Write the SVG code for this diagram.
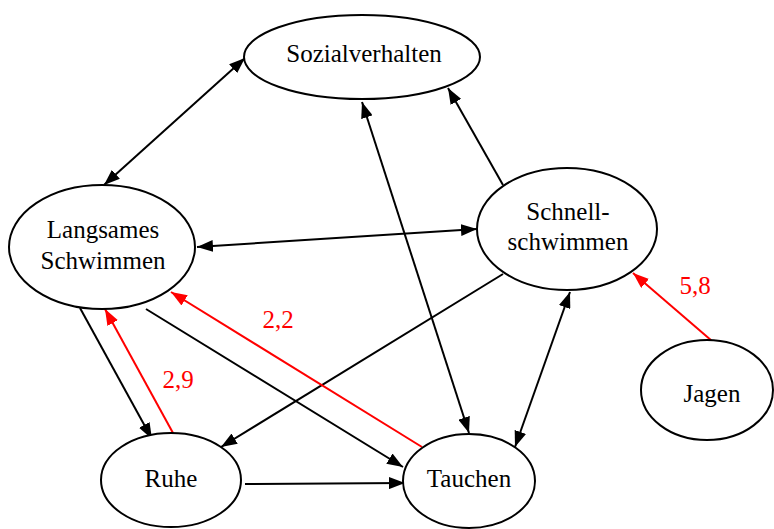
<svg xmlns="http://www.w3.org/2000/svg" width="774" height="529" viewBox="0 0 774 529" font-family="'Liberation Serif', 'DejaVu Serif', serif">
<defs>
<style>
.node ellipse{fill:#fff;stroke:#000;stroke-width:2}
text{font-size:25px;text-anchor:middle;fill:#000}
.lbl{fill:#ff0000}
.e{stroke:#000;stroke-width:2;fill:none}
.r{stroke:#ff0000;stroke-width:2;fill:none}
</style>
<marker id="ab" viewBox="0 0 16 12" refX="16" refY="6" markerWidth="16" markerHeight="12" markerUnits="userSpaceOnUse" orient="auto-start-reverse"><path d="M0,0 L16,6 L0,12 z" fill="#000"/></marker>
<marker id="ar" viewBox="0 0 16 12" refX="16" refY="6" markerWidth="16" markerHeight="12" markerUnits="userSpaceOnUse" orient="auto-start-reverse"><path d="M0,0 L16,6 L0,12 z" fill="#ff0000"/></marker>
</defs>
<rect width="774" height="529" fill="#fff"/>
<g id="connectors">
<line class="e" x1="104" y1="185" x2="245" y2="58" marker-start="url(#ab)" marker-end="url(#ab)"/>
<line class="e" x1="503" y1="185" x2="448" y2="88" marker-end="url(#ab)"/>
<line class="e" x1="197" y1="247" x2="477" y2="229" marker-start="url(#ab)" marker-end="url(#ab)"/>
<line class="e" x1="362" y1="102" x2="469" y2="433" marker-start="url(#ab)" marker-end="url(#ab)"/>
<line class="e" x1="503" y1="274" x2="221" y2="447" marker-end="url(#ab)"/>
<line class="e" x1="570" y1="292" x2="515" y2="447" marker-start="url(#ab)" marker-end="url(#ab)"/>
<line class="r" x1="712" y1="341" x2="633" y2="273" marker-end="url(#ar)"/>
<line class="e" x1="80" y1="308" x2="152" y2="439" marker-end="url(#ab)"/>
<line class="r" x1="173" y1="433" x2="105" y2="309" marker-end="url(#ar)"/>
<line class="e" x1="146" y1="309" x2="403" y2="467" marker-end="url(#ab)"/>
<line class="r" x1="422" y1="447" x2="171" y2="292" marker-end="url(#ar)"/>
<line class="e" x1="245" y1="484" x2="405" y2="483" marker-end="url(#ab)"/>
</g>
<g id="sozialverhalten" class="node"><ellipse cx="362" cy="57" rx="118" ry="42"/><text x="364" y="62">Sozialverhalten</text></g>
<g id="langsames" class="node"><ellipse cx="102" cy="247" rx="93" ry="62"/><text x="103" y="238">Langsames</text><text x="103" y="269">Schwimmen</text></g>
<g id="schnell" class="node"><ellipse cx="567" cy="229" rx="90" ry="61"/><text x="568" y="220">Schnell-</text><text x="568" y="250">schwimmen</text></g>
<g id="ruhe" class="node"><ellipse cx="171" cy="480" rx="70" ry="47"/><text x="171" y="487">Ruhe</text></g>
<g id="tauchen" class="node"><ellipse cx="469" cy="481" rx="66" ry="47"/><text x="469" y="487">Tauchen</text></g>
<g id="jagen" class="node"><ellipse cx="707" cy="390" rx="66" ry="50"/><text x="712" y="402">Jagen</text></g>
<g id="labels">
<text class="lbl" x="695" y="294">5,8</text>
<text class="lbl" x="278" y="328">2,2</text>
<text class="lbl" x="178" y="388">2,9</text>
</g>
</svg>
